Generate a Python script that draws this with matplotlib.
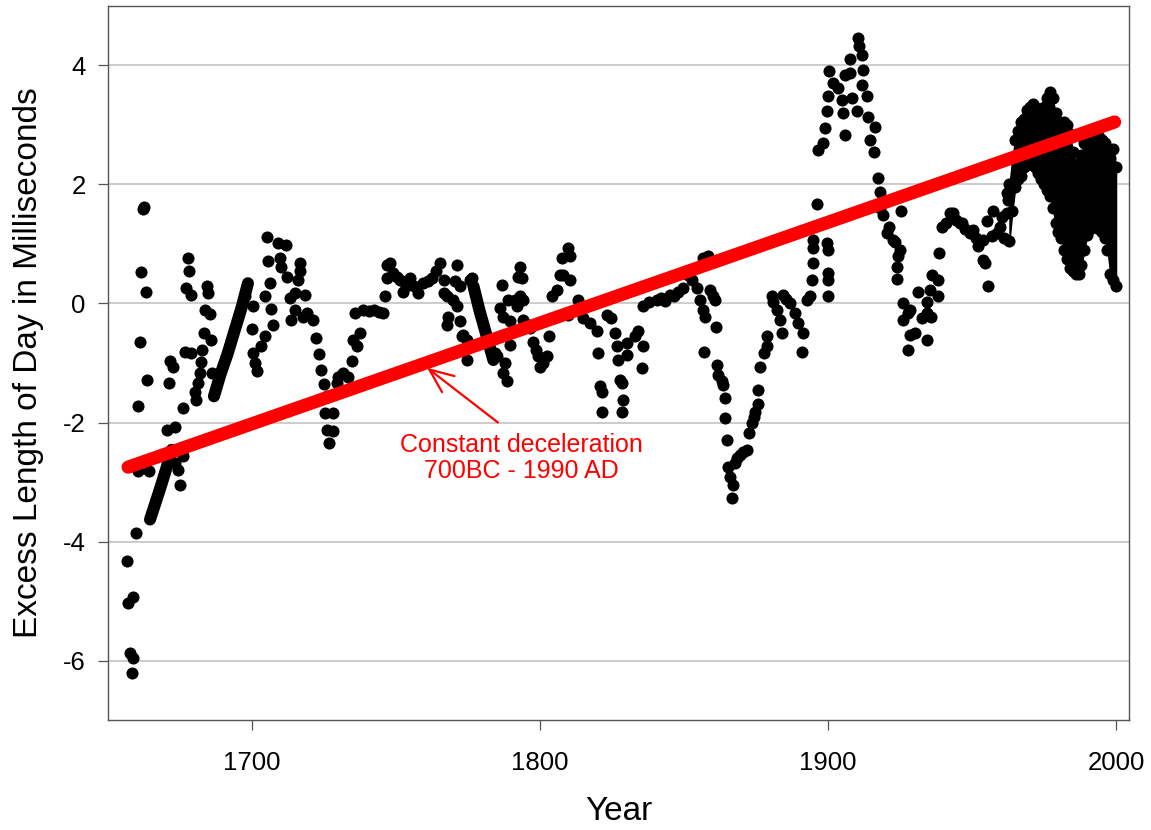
import numpy as np
import matplotlib
matplotlib.use('Agg')
import matplotlib.pyplot as plt

plt.rcParams['font.family'] = ['Liberation Sans', 'DejaVu Sans']
plt.rcParams['axes.unicode_minus'] = False

# ── historical excess LOD (ms) ──
hist_years = [
    1656.6, 1657.0, 1657.6, 1658.2, 1658.7, 1658.7, 1659.7, 1660.5, 1660.6, 1661.1,
    1661.6, 1662.3, 1662.6, 1663.3, 1663.7, 1664.3, 1670.6, 1671.2, 1671.4, 1672.5,
    1673.2, 1673.3, 1674.4, 1675.0, 1676.2, 1676.2, 1676.6, 1677.2, 1677.8, 1678.1,
    1678.9, 1678.9, 1680.1, 1680.7, 1681.3, 1681.8, 1682.4, 1682.7, 1683.3, 1683.6,
    1684.4, 1684.7, 1685.5, 1685.7, 1686.2, 1697.5, 1700.3, 1700.1, 1700.3, 1700.9,
    1701.7, 1703.2, 1704.4, 1704.4, 1705.3, 1705.6, 1706.4, 1706.7, 1707.3, 1709.0,
    1709.6, 1710.2, 1711.9, 1712.2, 1713.1, 1713.7, 1714.8, 1714.8, 1716.0, 1716.6,
    1716.6, 1717.7, 1718.3, 1719.0, 1721.3, 1722.4, 1723.3, 1724.1, 1725.0, 1725.9,
    1725.3, 1725.9, 1726.8, 1728.2, 1728.2, 1729.4, 1730.0, 1731.7, 1733.4, 1734.6,
    1735.2, 1736.3, 1737.5, 1735.8, 1738.7, 1740.5, 1742.2, 1744.0, 1745.6, 1746.2,
    1746.8, 1746.8, 1747.9, 1749.1, 1750.2, 1751.4, 1752.5, 1753.5, 1754.9, 1756.3,
    1757.8, 1759.5, 1761.0, 1762.4, 1764.0, 1765.3, 1766.5, 1766.5, 1767.6, 1768.2,
    1767.6, 1769.9, 1771.1, 1771.1, 1770.5, 1772.2, 1772.2, 1772.8, 1773.4, 1774.5,
    1774.5, 1775.7, 1776.3, 1784.4, 1785.0, 1786.1, 1786.7, 1787.3, 1787.3, 1787.8,
    1788.4, 1789.0, 1789.6, 1789.6, 1791.3, 1791.9, 1792.5, 1793.1, 1793.1, 1793.7,
    1794.2, 1794.2, 1795.3, 1796.5, 1797.7, 1798.5, 1799.4, 1800.0, 1801.0, 1802.3,
    1803.2, 1804.1, 1805.8, 1806.9, 1807.5, 1808.1, 1809.8, 1810.4, 1810.4, 1809.8,
    1812.7, 1813.3, 1815.1, 1817.4, 1819.7, 1820.3, 1820.8, 1821.4, 1821.4, 1823.1,
    1824.8, 1826.0, 1826.6, 1827.2, 1827.8, 1828.4, 1828.9, 1828.4, 1830.1, 1830.1,
    1833.0, 1834.1, 1835.9, 1835.3, 1835.9, 1838.0, 1840.5, 1842.0, 1843.5, 1845.1,
    1846.5, 1848.0, 1849.7, 1851.5, 1852.7, 1854.4, 1855.6, 1856.7, 1857.3, 1857.0,
    1856.7, 1858.4, 1859.0, 1860.2, 1860.8, 1861.1, 1861.3, 1861.9, 1863.1, 1863.6,
    1864.2, 1864.4, 1865.0, 1865.4, 1866.0, 1866.5, 1867.1, 1867.7, 1868.5, 1869.4,
    1870.6, 1871.8, 1872.7, 1873.5, 1874.2, 1874.7, 1875.8, 1875.6, 1876.4, 1877.6,
    1878.7, 1878.7, 1880.4, 1881.0, 1882.2, 1883.3, 1883.9, 1884.5, 1885.5, 1886.8,
    1888.5, 1889.7, 1891.4, 1891.1, 1892.6, 1893.8, 1894.3, 1894.9, 1894.9, 1894.9,
    1896.0, 1896.6, 1898.4, 1899.0, 1899.5, 1899.5, 1900.1, 1900.1, 1900.1, 1900.1,
    1900.1, 1900.5, 1901.8, 1903.6, 1904.7, 1905.3, 1905.9, 1905.9, 1907.6, 1907.6,
    1908.2, 1909.9, 1910.5, 1910.9, 1911.7, 1912.0, 1911.7, 1913.4, 1914.0, 1914.6,
    1915.8, 1916.3, 1917.5, 1918.1, 1918.7, 1918.1, 1919.2, 1920.4, 1921.0, 1922.7,
    1923.3, 1924.4, 1925.0, 1925.5, 1924.0, 1923.8, 1926.1, 1926.1, 1927.8, 1927.8,
    1928.5, 1928.5, 1930.2, 1931.3, 1932.5, 1934.2, 1934.2, 1934.2, 1935.4, 1935.9,
    1936.0, 1938.3, 1938.3, 1938.5, 1939.4, 1941.0, 1942.4, 1943.5, 1944.5, 1945.8,
    1946.4, 1947.5, 1949.3, 1950.4, 1951.5, 1952.2, 1953.9, 1953.9, 1954.5, 1955.1,
    1955.7, 1956.8, 1957.4, 1958.6, 1959.7, 1960.5, 1961.0, 1962.1, 1962.1, 1962.6,
]
hist_lod = [
    -4.32, -5.03, -5.87, -6.21, -5.95, -4.93, -3.85, -2.82, -1.72, -0.65,
    0.53, 1.58, 1.62, 0.20, -1.29, -2.82, -2.12, -1.33, -0.97, -1.06,
    -2.07, -2.68, -2.79, -3.05, -1.76, -2.57, -0.82, 0.26, 0.76, 0.54,
    0.15, -0.83, -1.48, -1.62, -1.34, -1.17, -0.99, -0.78, -0.50, -0.11,
    0.30, 0.17, -0.18, -0.62, -1.16, 0.12, -0.05, -0.43, -0.83, -1.00,
    -1.13, -0.72, -0.55, 0.13, 1.11, 0.71, 0.34, -0.09, -0.36, 1.02,
    0.76, 0.62, 0.99, 0.45, 0.09, -0.27, 0.17, -0.11, 0.40, 0.54,
    0.68, -0.22, 0.15, -0.16, -0.27, -0.58, -0.85, -1.12, -1.35, -1.55,
    -1.84, -2.12, -2.34, -1.84, -2.15, -1.34, -1.23, -1.17, -1.23, -0.97,
    -0.61, -0.72, -0.50, -0.16, -0.11, -0.13, -0.11, -0.14, -0.16, 0.12,
    0.43, 0.65, 0.68, 0.51, 0.45, 0.40, 0.20, 0.30, 0.43, 0.30,
    0.17, 0.34, 0.38, 0.43, 0.55, 0.68, 0.40, 0.17, 0.12, -0.22,
    -0.36, 0.06, -0.05, 0.65, 0.37, 0.29, -0.30, -0.55, -0.53, -0.61,
    -0.95, 0.40, 0.43, -0.83, -0.89, -0.08, 0.31, -0.22, -1.17, -1.00,
    -1.31, 0.06, -0.30, -0.69, 0.06, -0.05, 0.45, 0.62, 0.12, 0.43,
    0.06, -0.27, -0.35, -0.41, -0.64, -0.78, -0.89, -1.06, -1.00, -0.89,
    -0.54, 0.12, 0.23, 0.48, 0.76, 0.48, 0.93, 0.79, 0.40, -0.19,
    -0.11, 0.06, -0.25, -0.33, -0.47, -0.83, -1.39, -1.48, -1.82, -0.19,
    -0.25, -0.50, -0.72, -0.95, -1.28, -1.34, -1.62, -1.82, -0.67, -0.86,
    -0.55, -0.47, -0.72, -1.09, -0.05, 0.02, 0.06, 0.10, 0.05, 0.15,
    0.12, 0.20, 0.26, 0.48, 0.40, 0.26, 0.06, -0.11, -0.22, -0.82,
    0.76, 0.79, 0.23, 0.12, 0.06, -0.40, -1.03, -1.20, -1.31, -1.37,
    -1.59, -1.93, -2.29, -2.74, -2.91, -3.27, -3.05, -2.68, -2.60, -2.54,
    -2.50, -2.46, -2.18, -2.01, -1.90, -1.82, -1.69, -1.45, -1.06, -0.83,
    -0.72, -0.55, 0.12, 0.03, -0.11, -0.27, -0.50, 0.15, 0.08, 0.01,
    -0.16, -0.33, -0.50, -0.81, 0.06, 0.12, 0.40, 0.68, 0.93, 1.07,
    1.68, 2.58, 2.70, 2.95, 3.23, 1.02, 0.90, 0.51, 0.40, 0.12,
    3.48, 3.90, 3.70, 3.62, 3.42, 3.20, 2.84, 3.84, 3.87, 4.11,
    3.45, 3.23, 4.46, 4.32, 4.18, 3.92, 3.68, 3.48, 3.14, 2.75,
    2.55, 2.97, 2.11, 1.88, 1.71, 1.60, 1.49, 1.18, 1.29, 1.07,
    1.04, 0.79, 0.90, 1.55, 0.62, 0.41, 0.01, -0.27, -0.16, -0.78,
    -0.11, -0.53, -0.50, 0.20, -0.25, 0.03, -0.16, -0.61, 0.23, -0.22,
    0.48, 0.40, 0.12, 0.85, 1.29, 1.35, 1.52, 1.52, 1.40, 1.35,
    1.35, 1.25, 1.18, 1.24, 1.10, 0.96, 1.07, 0.73, 0.68, 1.38,
    0.29, 1.13, 1.55, 1.18, 1.29, 1.45, 1.10, 1.52, 1.86, 1.74,
]

# densely sampled straight stretches (dots merge into a solid streak)
run_a_years = [1664.6, 1666.5, 1668.5, 1670.4, 1672.1]
run_a_lod = [-3.63, -3.35, -3.05, -2.75, -2.46]
run_b_years = [1686.8, 1689.0, 1691.5, 1694.0, 1696.5, 1698.6]
run_b_lod = [-1.56, -1.20, -0.85, -0.45, -0.05, 0.34]
run_c_years = [1776.9, 1779.0, 1781.5, 1783.8]
run_c_lod = [0.29, -0.12, -0.55, -0.95]

# modern daily series: upper / lower envelope per year
modern_years = list(range(1963, 2001))
modern_hi = [2.00, 2.45, 2.75, 2.90, 3.05, 3.10, 3.25, 3.30, 3.35, 3.30,
             3.25, 3.20, 3.30, 3.45, 3.55, 3.45, 3.20, 3.05, 3.00, 3.05,
             3.00, 2.85, 2.55, 2.35, 2.35, 2.50, 2.70, 2.75, 2.80, 2.75,
             2.70, 2.80, 2.75, 2.70, 2.60, 2.45, 2.60, 2.30]
modern_lo = [1.05, 1.55, 1.95, 2.10, 2.15, 2.30, 2.35, 2.35, 2.35, 2.30,
             2.20, 2.10, 2.00, 1.90, 1.80, 1.60, 1.35, 1.20, 1.10, 0.90,
             0.75, 0.60, 0.55, 0.50, 0.50, 0.65, 0.90, 1.15, 1.25, 1.30,
             1.30, 1.25, 1.20, 1.10, 0.90, 0.50, 0.40, 0.30]

# constant deceleration trend line
trend_years = [1657.0, 1999.5]
trend_lod = [-2.75, 3.05]

fig = plt.figure(figsize=(11.51, 8.30), dpi=100)
ax = fig.add_axes([0.0938, 0.1325, 0.8871, 0.8603])

ms = 8.7
dot = dict(color='black', ms=ms, mew=0, ls='none', marker='o')
ax.plot(hist_years, hist_lod, **dot)
for rx, ry in [(run_a_years, run_a_lod), (run_b_years, run_b_lod),
               (run_c_years, run_c_lod)]:
    ax.plot(rx, ry, '-', color='black', lw=ms, solid_capstyle='round')
ax.fill_between(modern_years, modern_lo, modern_hi, facecolor='black',
                edgecolor='black', lw=1.0)
ax.plot(modern_years, modern_hi, **dot)
ax.plot(modern_years, modern_lo, **dot)

ax.plot(trend_years, trend_lod, color='red', lw=9.5, solid_capstyle='round')

# annotation
ax.annotate('', xy=(1760.8, -1.08), xytext=(1785.4, -2.0),
            arrowprops=dict(arrowstyle='->,head_length=0.4,head_width=0.17',
                            color='red', lw=1.6, mutation_scale=43,
                            shrinkA=0, shrinkB=0))
ax.text(1793.7, -2.6, 'Constant deceleration\n700BC - 1990 AD',
        color='red', fontsize=18, ha='center', va='center', linespacing=1.1)

ax.set_xlim(1650, 2004.5)
ax.set_ylim(-7.0, 5.0)
ax.set_xticks([1700, 1800, 1900, 2000])
ax.set_yticks([-6, -4, -2, 0, 2, 4])

ax.yaxis.grid(True, color='#c4c4c4', lw=1.2)
ax.set_axisbelow(True)
for s in ax.spines.values():
    s.set_color('#555555')
    s.set_linewidth(1.0)
ax.tick_params(direction='out', length=7, width=0.9, color='#555555',
               labelsize=18.5)
ax.tick_params(axis='x', pad=15)
ax.tick_params(axis='y', pad=9)

ax.set_xlabel('Year', fontsize=24)
ax.set_ylabel('Excess Length of Day in Milliseconds', fontsize=24)
ax.xaxis.set_label_coords(0.5, -0.106)
ax.yaxis.set_label_coords(-0.063, 0.5)

plt.savefig('out.png', dpi=100)
